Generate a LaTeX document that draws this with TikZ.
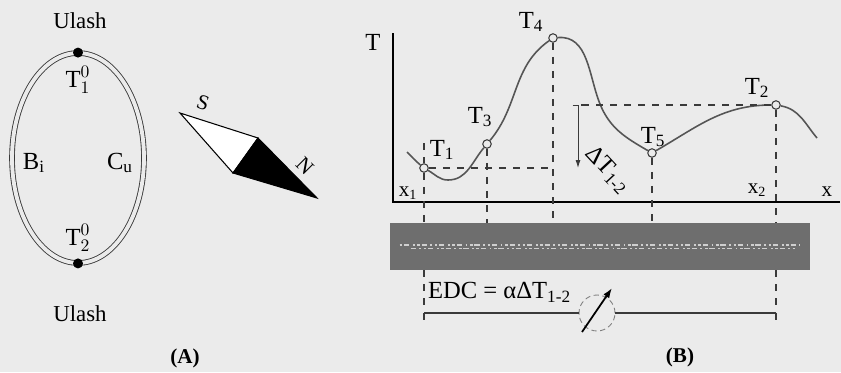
\documentclass[tikz,border=0pt]{standalone}
\usepackage{fontspec}
\setmainfont{Liberation Serif}
\usepackage{xcolor}
\usepackage{tikz}
\usetikzlibrary{arrows.meta,positioning,shapes.geometric}
\definecolor{paper}{HTML}{EBEBEB}
\definecolor{inkgray}{HTML}{3A3A3A}
\definecolor{curvegray}{HTML}{555555}
\definecolor{stripgray}{HTML}{6E6E6E}
\definecolor{specklegray}{HTML}{CFCFCF}
\tikzset{
  lbl/.style={inner sep=1pt, font=\fontsize{14}{16}\selectfont},
  namelbl/.style={inner sep=1pt, font=\fontsize{13}{15}\selectfont},
  smalllbl/.style={inner sep=1pt, font=\fontsize{12}{14}\selectfont},
  panel/.style={inner sep=1pt, font=\fontsize{12}{14}\selectfont\bfseries},
  thermo/.style={ellipse, draw=inkgray, double=paper, double distance=2.2pt, line width=0.5pt, inner sep=0pt, minimum width=2.64cm, minimum height=4.2cm},
  junction/.style={circle, fill=black, inner sep=0pt, minimum size=0.2cm},
  probe/.style={circle, draw=inkgray, fill=paper, line width=0.6pt, inner sep=0pt, minimum size=0.17cm},
  curve/.style={draw=curvegray, line width=0.9pt},
  axis/.style={draw=black, line width=1.2pt},
  guide/.style={draw=inkgray, line width=0.6pt, dash pattern=on 4pt off 4pt},
  dimarrow/.style={-{Latex[length=1.6mm,width=1mm]}, draw=inkgray, line width=0.5pt},
  wire/.style={draw=inkgray, line width=0.8pt},
  meter/.style={circle, draw=gray, densely dashed, line width=0.5pt, inner sep=0pt, minimum size=0.72cm},
  needle/.style={-{Latex[length=2mm,width=1.4mm]}, draw=black, line width=1pt},
  strip/.style={fill=stripgray, inner sep=0pt, minimum width=8.4cm, minimum height=0.94cm},
  speckle/.style={draw=specklegray, line width=1.1pt, dash pattern=on 1.5pt off 1pt on 3pt off 2pt on 1pt off 1.5pt}
}

\begin{document}
\begin{tikzpicture}[x=0.02cm,y=0.02cm]
  \fill[paper] (0,0) rectangle (841,-372);
  \useasboundingbox (0,0) rectangle (841,-372);

  % (A) thermocouple loop
  \node[thermo] (loop) at (78,-158) {};
  \node[junction] (jtop) at (loop.north) {};
  \node[junction] (jbot) at (loop.south) {};
  \node[namelbl] (ulashtop) at (80,-21) {Ulash};
  \node[namelbl] (ulashbot) at (80,-314) {Ulash};
  \node[lbl] (t1zero) at (78,-80) {T$_1^0$};
  \node[lbl] (t2zero) at (78,-238) {T$_2^0$};
  \node[lbl] (bi) at (34,-163) {B\textsubscript{i}};
  \node[lbl] (cu) at (120,-163) {C\textsubscript{u}};
  \node[panel] (labA) at (185,-358) {(A)};

  % compass needle
  \coordinate (sTip) at (180,-113);
  \coordinate (nUp) at (258,-138);
  \coordinate (nTip) at (317,-198);
  \coordinate (nLow) at (233,-173);
  \filldraw[fill=white, draw=black, line width=0.6pt] (sTip) -- (nUp) -- (nLow) -- cycle;
  \filldraw[fill=black, draw=black, line width=0.6pt] (nUp) -- (nTip) -- (nLow) -- cycle;
  \node[smalllbl, rotate=-18] (sLbl) at (203,-103) {S};
  \node[smalllbl, rotate=-45] (nLbl) at (305,-166) {N};

  % (B) temperature along the wire
  \coordinate (o) at (393,-202);
  \coordinate (ytop) at (393,-33);
  \coordinate (xend) at (840,-202);
  \draw[axis] (ytop) -- (o) -- (xend);
  \node[lbl] (tAxis) at (373,-42) {T};
  \node[smalllbl] (xAxis) at (827,-192) {x};
  \node[smalllbl] (x1) at (408,-193) {x\textsubscript{1}};
  \node[smalllbl] (x2) at (757,-190) {x\textsubscript{2}};

  \node[strip] (strip) at (600,-246.5) {};
  \draw[speckle] ([xshift=0.2cm,yshift=1pt]strip.west) -- ([xshift=-0.2cm,yshift=1pt]strip.east);
  \draw[speckle, dash phase=2pt, line width=0.6pt] ([xshift=0.4cm,yshift=-1pt]strip.west) -- ([xshift=-0.3cm,yshift=-1pt]strip.east);

  \node[probe] (T1) at (424,-168) {};
  \node[probe] (T3) at (487,-144) {};
  \node[probe] (T4) at (553,-38) {};
  \node[probe] (T5) at (652,-153) {};
  \node[probe] (T2) at (776,-105) {};
  \coordinate (cstart) at (407,-152);
  \coordinate (cmin) at (448,-180);
  \coordinate (cdrop) at (600,-104);
  \coordinate (cend) at (817,-138);

  \draw[curve] (cstart) to[out=-45,in=140] (T1)
    to[out=-30,in=180] (cmin)
    to[out=0,in=230] (T3)
    to[out=50,in=215] (T4)
    to[out=5,in=112] (cdrop)
    to[out=-68,in=150] (T5)
    to[out=30,in=180] (T2)
    to[out=-10,in=130] (cend);

  \node[lbl] (lT1) at (442,-150) {T\textsubscript{1}};
  \node[lbl] (lT3) at (480,-117) {T\textsubscript{3}};
  \node[lbl] (lT4) at (531,-22) {T\textsubscript{4}};
  \node[lbl] (lT5) at (653,-137) {T\textsubscript{5}};
  \node[lbl] (lT2) at (757,-88) {T\textsubscript{2}};

  % dashed guides
  \coordinate (x1top) at (424,-143);
  \draw[guide] (x1top) -- (T1);
  \draw[guide] (T1) -- (T1 |- strip.north);
  \draw[guide] (T3) -- (T3 |- strip.north);
  \draw[guide] (T4) -- (T4 |- strip.north);
  \draw[guide] (T5) -- (T5 |- strip.north);
  \draw[guide] (T2) -- (T2 |- strip.north);
  \draw[guide] (T1) -- (T1 -| T4);

  \coordinate (dtop) at (578,-105);
  \coordinate (dbot) at (578,-168);
  \draw[guide] (T2) -- (dtop);
  \draw[dimarrow] ([xshift=-3pt]dtop) -- (dtop) -- (dbot);
  \node[lbl, rotate=-47] (dT) at (608,-170) {ΔT\textsubscript{1-2}};

  % measuring circuit
  \node[lbl, anchor=west] (edc) at (426,-292) {EDC = αΔT\textsubscript{1-2}};
  \node[meter] (g) at (597,-313) {};
  \coordinate (e1) at (424,-313);
  \coordinate (e2) at (776,-313);
  \coordinate (e1low) at (424,-320);
  \coordinate (e2low) at (776,-320);
  \draw[wire] (e1) -- (g);
  \draw[wire] (g) -- (e2);
  \draw[guide] (T1 |- strip.south) -- (e1low);
  \draw[guide] (T2 |- strip.south) -- (e2low);
  \draw[needle] ([shift={(-15,-19)}]g.center) -- ([shift={(15,25)}]g.center);
  \node[panel] (labB) at (680,-357) {(B)};
\end{tikzpicture}
\end{document}
